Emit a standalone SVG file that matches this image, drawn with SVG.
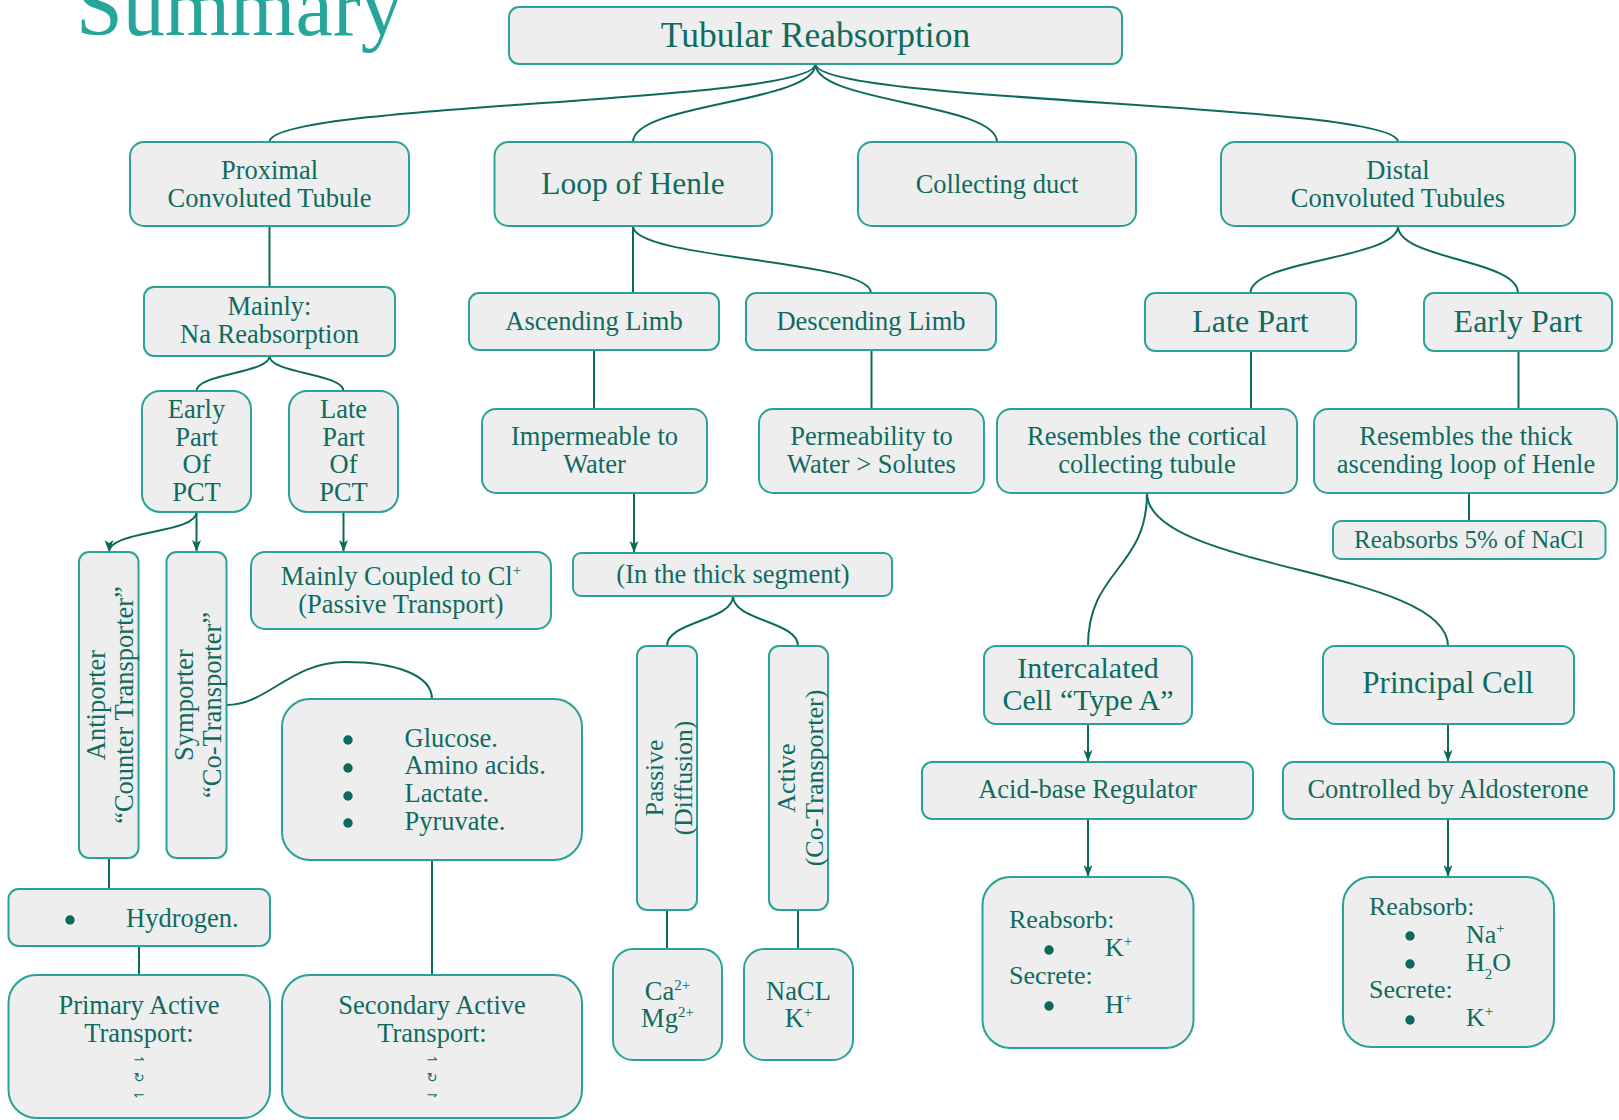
<svg xmlns="http://www.w3.org/2000/svg" width="1619" height="1120" viewBox="0 0 1619 1120">
<style>
.box{fill:#eeeeee;stroke:#2aa396;stroke-width:2}
.t{font-family:"Liberation Serif","DejaVu Serif",serif;fill:#0f6b5f;font-size:26.5px;text-anchor:middle}
.s{text-anchor:start}
.big{font-size:31.5px}
.sym{font-family:"DejaVu Sans",sans-serif;font-size:13px;fill:#0f6b5f;text-anchor:middle}
.c{fill:none;stroke:#0c6a5d;stroke-width:2}
.a{marker-end:url(#arr)}
.dot{fill:#0c6a5d}
</style>
<defs>
<marker id="arr" markerUnits="userSpaceOnUse" markerWidth="14" markerHeight="10" refX="12" refY="4.5" orient="auto">
<path d="M0,0 L12,4.5 L0,9 L3,4.5 z" fill="#0c6a5d"/>
</marker>
</defs>
<rect width="1619" height="1120" fill="#ffffff"/>
<text x="76" y="35" style="font-family:'Liberation Serif','DejaVu Serif',serif;font-size:84px;fill:#26a69a">Summary</text>

<g id="connectors">
<path class="c" d="M815.5,64 C815.5,103 269.5,103 269.5,142"/>
<path class="c" d="M815.5,64 C815.5,103 633,103 633,142"/>
<path class="c" d="M815.5,64 C815.5,103 997,103 997,142"/>
<path class="c" d="M815.5,64 C815.5,103 1398,103 1398,142"/>
<path class="c" d="M269.5,226 L269.5,287"/>
<path class="c" d="M269.5,356 C269.5,373.5 196.5,373.5 196.5,391"/>
<path class="c" d="M269.5,356 C269.5,373.5 343.5,373.5 343.5,391"/>
<path class="c a" d="M196.5,512 C196.5,534 109,530 109,552"/>
<path class="c a" d="M196.5,512 L196.5,552"/>
<path class="c a" d="M343.5,512 L343.5,552"/>
<path class="c" d="M226.5,705 C268,705 290,662 345,662 C395,662 432,675 432,699"/>
<path class="c" d="M109,858 L109,889"/>
<path class="c" d="M139,946 L139,975"/>
<path class="c" d="M432,860 L432,975"/>
<path class="c" d="M633,226 L633,293"/>
<path class="c" d="M633,226 C633,259.5 871,259.5 871,293"/>
<path class="c" d="M594,350 L594,409"/>
<path class="c" d="M871.5,350 L871.5,409"/>
<path class="c a" d="M634,493 L634,553"/>
<path class="c" d="M733,596 C733,621 667,621 667,646"/>
<path class="c" d="M733,596 C733,621 798,621 798,646"/>
<path class="c" d="M667,910 L667,949"/>
<path class="c" d="M798,910 L798,949"/>
<path class="c" d="M1398,226 C1398,259.5 1250.5,259.5 1250.5,293"/>
<path class="c" d="M1398,226 C1398,259.5 1518,259.5 1518,293"/>
<path class="c" d="M1251,351 L1251,409"/>
<path class="c" d="M1518.5,351 L1518.5,409"/>
<path class="c" d="M1469,493 L1469,521"/>
<path class="c" d="M1147,493 C1147,569.5 1088,569.5 1088,646"/>
<path class="c" d="M1147,493 C1147,569.5 1448,569.5 1448,646"/>
<path class="c a" d="M1088,724 L1088,762"/>
<path class="c a" d="M1088,819 L1088,877"/>
<path class="c a" d="M1448,724 L1448,762"/>
<path class="c a" d="M1448,819 L1448,877"/>
</g>

<g id="title"><rect class="box" x="509" y="7" width="613" height="57" rx="10"/><text class="t" x="815.5" y="47" style="font-size:35.5px">Tubular Reabsorption</text></g>

<g id="pct"><rect class="box" x="130" y="142" width="279" height="84" rx="14"/><text class="t" x="269.5" y="179">Proximal</text><text class="t" x="269.5" y="207">Convoluted Tubule</text></g>
<g id="loop"><rect class="box" x="494.5" y="142" width="277.5" height="84" rx="14"/><text class="t big" x="633" y="194">Loop of Henle</text></g>
<g id="collecting"><rect class="box" x="858" y="142" width="278" height="84" rx="14"/><text class="t" x="997" y="193">Collecting duct</text></g>
<g id="distal"><rect class="box" x="1221" y="142" width="354" height="84" rx="14"/><text class="t" x="1398" y="179">Distal</text><text class="t" x="1398" y="207">Convoluted Tubules</text></g>

<g id="mainly"><rect class="box" x="144" y="287" width="251" height="69" rx="10"/><text class="t" x="269.5" y="315">Mainly:</text><text class="t" x="269.5" y="343">Na Reabsorption</text></g>
<g id="ascending"><rect class="box" x="469" y="293" width="250" height="57" rx="10"/><text class="t" x="594" y="330">Ascending Limb</text></g>
<g id="descending"><rect class="box" x="746" y="293" width="250" height="57" rx="10"/><text class="t" x="871" y="330">Descending Limb</text></g>
<g id="latepart"><rect class="box" x="1145" y="293" width="211" height="58" rx="10"/><text class="t" x="1250.5" y="332" style="font-size:32px">Late Part</text></g>
<g id="earlypart"><rect class="box" x="1424" y="293" width="188" height="58" rx="10"/><text class="t" x="1518" y="332" style="font-size:32px">Early Part</text></g>

<g id="earlypct"><rect class="box" x="142" y="391" width="109" height="121" rx="18"/><text class="t" x="196.5" y="418">Early</text><text class="t" x="196.5" y="446">Part</text><text class="t" x="196.5" y="473">Of</text><text class="t" x="196.5" y="501">PCT</text></g>
<g id="latepct"><rect class="box" x="289" y="391" width="109" height="121" rx="18"/><text class="t" x="343.5" y="418">Late</text><text class="t" x="343.5" y="446">Part</text><text class="t" x="343.5" y="473">Of</text><text class="t" x="343.5" y="501">PCT</text></g>

<g id="impermeable"><rect class="box" x="482" y="409" width="225" height="84" rx="14"/><text class="t" x="594.5" y="445">Impermeable to</text><text class="t" x="594.5" y="473">Water</text></g>
<g id="permeability"><rect class="box" x="759" y="409" width="225" height="84" rx="14"/><text class="t" x="871.5" y="445">Permeability to</text><text class="t" x="871.5" y="473">Water &gt; Solutes</text></g>
<g id="cortical"><rect class="box" x="997" y="409" width="300" height="84" rx="14"/><text class="t" x="1147" y="445">Resembles the cortical</text><text class="t" x="1147" y="473">collecting tubule</text></g>
<g id="thickloop"><rect class="box" x="1314" y="409" width="303" height="84" rx="14"/><text class="t" x="1466" y="445">Resembles the thick</text><text class="t" x="1466" y="473">ascending loop of Henle</text></g>
<g id="reabsorbs5"><rect class="box" x="1333" y="521" width="272.5" height="38" rx="8"/><text class="t" x="1469" y="548" style="font-size:25px">Reabsorbs 5% of NaCl</text></g>

<g id="antiporter"><rect class="box" x="79" y="552" width="59.5" height="306" rx="10"/><text class="t" transform="translate(0,705) rotate(-90)"><tspan x="0" y="105">Antiporter</tspan><tspan x="0" y="133">“Counter Transporter”</tspan></text></g>
<g id="symporter"><rect class="box" x="166.5" y="552" width="60" height="306" rx="10"/><text class="t" transform="translate(0,705) rotate(-90)"><tspan x="0" y="193">Symporter</tspan><tspan x="0" y="221">“Co-Transporter”</tspan></text></g>
<g id="coupled"><rect class="box" x="251" y="552" width="300" height="77" rx="14"/><text class="t" x="401" y="585">Mainly Coupled to Cl<tspan dy="-10" style="font-size:15px">+</tspan></text><text class="t" x="401" y="613">(Passive Transport)</text></g>
<g id="thickseg"><rect class="box" x="573" y="553" width="319" height="43" rx="8"/><text class="t" x="733" y="583">(In the thick segment)</text></g>

<g id="glucose"><rect class="box" x="282" y="699" width="300" height="161" rx="28"/>
<circle class="dot" cx="348" cy="740" r="4.7"/><circle class="dot" cx="348" cy="768" r="4.7"/><circle class="dot" cx="348" cy="796" r="4.7"/><circle class="dot" cx="348" cy="823" r="4.7"/>
<text class="t s" x="404.5" y="747">Glucose.</text><text class="t s" x="404.5" y="774">Amino acids.</text><text class="t s" x="404.5" y="802">Lactate.</text><text class="t s" x="404.5" y="830">Pyruvate.</text></g>

<g id="passive"><rect class="box" x="637" y="646" width="60" height="264" rx="10"/><text class="t" style="font-size:25.5px" transform="translate(0,778) rotate(-90)"><tspan x="0" y="663">Passive</tspan><tspan x="0" y="692">(Diffusion)</tspan></text></g>
<g id="active"><rect class="box" x="769" y="646" width="59" height="264" rx="10"/><text class="t" style="font-size:26px" transform="translate(0,778) rotate(-90)"><tspan x="0" y="795">Active</tspan><tspan x="0" y="823">(Co-Transporter)</tspan></text></g>

<g id="intercalated"><rect class="box" x="984" y="646" width="208" height="78" rx="12"/><text class="t" x="1088" y="678" style="font-size:30px">Intercalated</text><text class="t" x="1088" y="710" style="font-size:30px">Cell “Type A”</text></g>
<g id="principal"><rect class="box" x="1323" y="646" width="251" height="78" rx="12"/><text class="t" x="1448" y="693" style="font-size:31px">Principal Cell</text></g>
<g id="acidbase"><rect class="box" x="922" y="762" width="331" height="57" rx="10"/><text class="t" x="1087.5" y="798">Acid-base Regulator</text></g>
<g id="controlled"><rect class="box" x="1283" y="762" width="331" height="57" rx="10"/><text class="t" x="1448" y="798">Controlled by Aldosterone</text></g>

<g id="hydrogen"><rect class="box" x="8.5" y="889" width="261.5" height="57" rx="10"/><circle class="dot" cx="70" cy="920" r="4.7"/><text class="t s" x="126" y="927">Hydrogen.</text></g>

<g id="camg"><rect class="box" x="613" y="949" width="109" height="111" rx="20"/><text class="t" x="667.5" y="1000">Ca<tspan dy="-10" style="font-size:15px">2+</tspan></text><text class="t" x="667.5" y="1027">Mg<tspan dy="-10" style="font-size:15px">2+</tspan></text></g>
<g id="nacl"><rect class="box" x="744" y="949" width="109" height="111" rx="20"/><text class="t" x="798.5" y="1000">NaCL</text><text class="t" x="798.5" y="1027">K<tspan dy="-10" style="font-size:15px">+</tspan></text></g>

<g id="reabsorbA"><rect class="box" x="982.5" y="877" width="211" height="171" rx="28"/>
<text class="t s" x="1009" y="928" style="font-size:26px">Reabsorb:</text>
<circle class="dot" cx="1049" cy="950" r="4.7"/><text class="t s" x="1105" y="956" style="font-size:26px">K<tspan dy="-10" style="font-size:15px">+</tspan></text>
<text class="t s" x="1009" y="984" style="font-size:26px">Secrete:</text>
<circle class="dot" cx="1049" cy="1006" r="4.7"/><text class="t s" x="1105" y="1013" style="font-size:26px">H<tspan dy="-10" style="font-size:15px">+</tspan></text></g>

<g id="reabsorbP"><rect class="box" x="1343" y="877" width="211" height="170" rx="28"/>
<text class="t s" x="1369" y="915" style="font-size:26px">Reabsorb:</text>
<circle class="dot" cx="1410" cy="936" r="4.7"/><text class="t s" x="1466" y="943" style="font-size:26px">Na<tspan dy="-10" style="font-size:15px">+</tspan></text>
<circle class="dot" cx="1410" cy="964" r="4.7"/><text class="t s" x="1466" y="971" style="font-size:26px">H<tspan dy="8" style="font-size:15px">2</tspan><tspan dy="-8">O</tspan></text>
<text class="t s" x="1369" y="998" style="font-size:26px">Secrete:</text>
<circle class="dot" cx="1410" cy="1020" r="4.7"/><text class="t s" x="1466" y="1026" style="font-size:26px">K<tspan dy="-10" style="font-size:15px">+</tspan></text></g>

<g id="primary"><rect class="box" x="8.5" y="975" width="261.5" height="143" rx="28"/><text class="t" x="139" y="1014">Primary Active</text><text class="t" x="139" y="1042">Transport:</text>
<text class="sym" x="139" y="1064">⇀</text><text class="sym" x="139" y="1082">↻</text><text class="sym" x="139" y="1099">↽</text></g>
<g id="secondary"><rect class="box" x="282" y="975" width="300" height="143" rx="28"/><text class="t" x="432" y="1014">Secondary Active</text><text class="t" x="432" y="1042">Transport:</text>
<text class="sym" x="432" y="1064">⇀</text><text class="sym" x="432" y="1082">↻</text><text class="sym" x="432" y="1099">⇁</text></g>
</svg>
